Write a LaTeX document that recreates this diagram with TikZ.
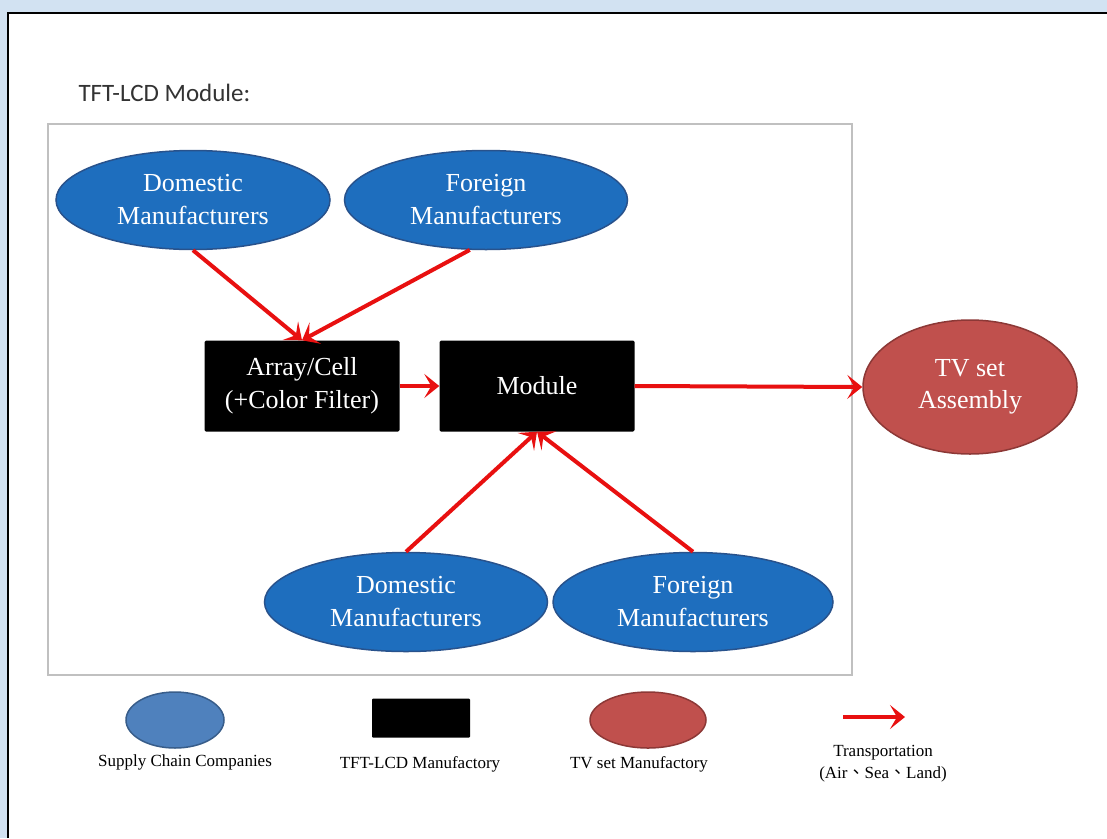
\documentclass[tikz,border=0pt]{standalone}
\usepackage{fontspec}
\setmainfont{Liberation Serif}
\newfontfamily\calibri{Carlito}
\newfontfamily\cjk{Noto Sans CJK TC}
\usepackage{tikz}
\usetikzlibrary{shapes.geometric,arrows.meta,positioning}

\definecolor{paneblue}{RGB}{210,226,242}
\definecolor{supplyblue}{RGB}{30,110,190}
\definecolor{supplyline}{RGB}{40,82,140}
\definecolor{legendblue}{RGB}{79,129,189}
\definecolor{legendline}{RGB}{56,93,138}
\definecolor{tvred}{RGB}{192,80,77}
\definecolor{tvline}{RGB}{140,56,54}
\definecolor{arrowred}{RGB}{232,16,16}
\definecolor{boxgray}{RGB}{192,192,192}

\begin{document}
\begin{tikzpicture}[x=1pt,y=-1pt,
    supplier/.style={ellipse,draw=supplyline,fill=supplyblue,line width=1.5pt,inner sep=0pt,
      minimum width=282pt,minimum height=99pt,text=white,align=center,
      font=\fontsize{26}{33}\selectfont},
    factory/.style={rectangle,fill=black,rounded corners=1.5pt,inner sep=0pt,
      minimum width=195pt,minimum height=91pt,text=white,align=center,
      font=\fontsize{26}{33}\selectfont},
    transport/.style={draw=arrowred,line width=4pt,
      -{Stealth[length=15pt,width=24pt,inset=7pt]}},
    legendtext/.style={align=center,font=\fontsize{17}{22}\selectfont}]
      \useasboundingbox (0,0) rectangle (1107,838);
      % slide background and page
      \fill[paneblue] (0,0) rectangle (1107,838);
      \fill[white] (8,13) rectangle (1107,838);
      \draw[line width=2pt] (8,838) -- (8,13) -- (1107,13);
      \node[anchor=base west,text=black!80,font=\calibri\fontsize{25}{30}\selectfont] (title) at (75,101) {TFT-LCD Module:};
      % module box
      \draw[boxgray,line width=2.5pt] (48,124) rectangle (852,675);
      % suppliers
      \node[supplier,minimum width=274pt] (dtop) at (193,200) {Domestic\\Manufacturers};
      \node[supplier,minimum width=283pt] (ftop) at (486,200) {Foreign\\Manufacturers};
      \node[supplier,minimum width=283pt] (dbot) at (406,602) {Domestic\\Manufacturers};
      \node[supplier,minimum width=280pt] (fbot) at (693,602) {Foreign\\Manufacturers};
      % factories
      \node[factory] (array) at (302,386) {Array/Cell\\(+Color Filter)};
      \node[factory] (module) at (537,386) {Module};
      \node[ellipse,draw=tvline,fill=tvred,line width=1.5pt,inner sep=0pt,minimum width=214pt,
        minimum height=134pt,text=white,align=center,font=\fontsize{26}{32}\selectfont] (tv) at (970,387) {TV set\\Assembly};
      % transport
      \draw[transport] (dtop.south) -- (array.north);
      \draw[transport] (ftop.252) -- (array.north);
      \draw[transport] (array.east) -- (module.west);
      \draw[transport] (module.east) -- (tv.west);
      \draw[transport] (dbot.north) -- (module.south);
      \draw[transport] (fbot.north) -- (module.south);
      % legend
      \node[ellipse,draw=legendline,fill=legendblue,line width=1.5pt,minimum width=98pt,minimum height=56pt] (lsupply) at (175,720) {};
      \node[rectangle,fill=black,rounded corners=1pt,minimum width=98pt,minimum height=39pt] (lfactory) at (421,718) {};
      \node[ellipse,draw=tvline,fill=tvred,line width=1.5pt,minimum width=116pt,minimum height=56pt] (ltv) at (648,720) {};
      \coordinate (lfrom) at (843,717);
      \coordinate (lto) at (905,717);
      \draw[transport] (lfrom) -- (lto);
      \node[legendtext] (tsupply) at (185,762) {Supply Chain Companies};
      \node[legendtext] (tfactory) at (420,764) {TFT-LCD Manufactory};
      \node[legendtext] (ttv) at (639,764) {TV set Manufactory};
      \node[legendtext] (ttransport) at (883,764) {Transportation\\(Air{\cjk 、}Sea{\cjk 、}Land)};
\end{tikzpicture}
\end{document}
